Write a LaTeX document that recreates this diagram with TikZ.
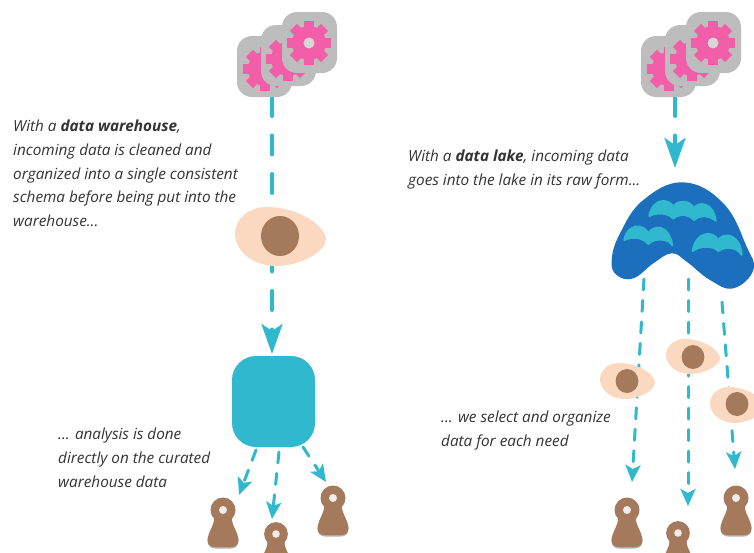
\documentclass[tikz,border=0pt]{standalone}
\usepackage{fontspec}
\setmainfont{Open Sans}
\usetikzlibrary{arrows.meta}
\definecolor{cy}{HTML}{2FB8CE}
\definecolor{lakeblue}{HTML}{1C6FBC}
\definecolor{peach}{HTML}{FBD9C1}
\definecolor{brownish}{HTML}{A5795B}
\definecolor{pink}{HTML}{F25FA8}
\definecolor{boxgray}{HTML}{BDBDBD}
\tikzset{
  flow/.style={draw=cy,line width=4pt,line cap=round,dash pattern=on 19pt off 19.5pt},
  thinflow/.style={draw=cy,line width=3pt,line cap=round,dash pattern=on 11pt off 10.5pt},
  bigtip/.style={-{Stealth[length=30pt,width=21pt,inset=7pt]}},
  tip/.style={-{Stealth[length=17pt,width=15pt,inset=4pt]}},
  caption/.style={font=\itshape\fontsize{15.3}{23.6}\selectfont,align=left,anchor=north west,inner sep=0pt,text=black!80},
  storebox/.style={fill=cy,rounded corners=24pt,minimum width=83pt,minimum height=91pt,inner sep=0pt},
  wave/.style={fill=cy,draw=cy,line width=2pt,line join=round},
}
\newcommand{\gearshape}[3]{%
  \begin{scope}[shift={(#1,#2)}]
    \fill[pink] (0,0) circle (17);
    \foreach \a in {0,45,...,315}{\fill[pink,rotate=\a] (-5,-22) rectangle (5,0);}
    \ifnum#3=1 \fill[boxgray!60] (0,0) circle (5.5);\fi
  \end{scope}}
\newcommand{\gearbox}[2]{\fill[boxgray,rounded corners=15pt] (#1,#2) rectangle ++(55,61);}
\newcommand{\gearstack}[1]{%
  \begin{scope}[shift={(#1,0)}]
    \gearbox{237}{36}\gearshape{265}{69}{0}
    \gearbox{261}{25}\gearshape{288}{59}{0}
    \gearbox{282}{12}\gearshape{309}{43}{1}
  \end{scope}}
\newcommand{\eyeshape}[7]{% centre x,y, half-width, half-height, pupil x,y,r
  \begin{scope}[shift={(#1,#2)},xscale=#3,yscale=#4]
  \fill[peach] (1,0.1) .. controls (1,-0.35) and (0.4,-1) .. (-0.3,-1)
     .. controls (-0.7,-1) and (-1,-0.6) .. (-1,-0.1)
     .. controls (-1,0.5) and (-0.6,1) .. (-0.1,1)
     .. controls (0.45,1) and (1,0.5) .. cycle;
  \end{scope}
  \fill[brownish] (#5,#6) ellipse ({#7*0.95} and {#7});}
\newcommand{\pawnshape}[3]{% head centre x,y, scale
  \begin{scope}[shift={(#1,#2)},scale=#3]
    \fill[black!30] (-9,9) .. controls (-8,15) and (-15,23) .. (-15.5,31)
      .. controls (-15.5,36) and (-12,38.5) .. (-8,38.5) -- (8,38.5)
      .. controls (12,38.5) and (15.5,36) .. (15.5,31)
      .. controls (15,23) and (8,15) .. (9,9) -- cycle;
    \fill[brownish] (-9,8) .. controls (-8,14) and (-15,22) .. (-15.5,30)
      .. controls (-15.5,35) and (-12,37) .. (-8,37) -- (8,37)
      .. controls (12,37) and (15.5,35) .. (15.5,30)
      .. controls (15,22) and (8,14) .. (9,8) -- cycle;
    \fill[brownish] (0,0) circle (12.5);
    \fill[white!85!brownish] (0,0) circle (4);
  \end{scope}}
\begin{document}
\begin{tikzpicture}[x=1pt,y=-1pt]
\useasboundingbox[fill=white] (0,0) rectangle (754,552);
% anchors
\coordinate (gearL) at (272,97);
\coordinate (eyeLtop) at (272,208);
\coordinate (eyeLbot) at (272,252.5);
\node[storebox] (store) at (273.5,401.5) {};
\coordinate (storeTip) at (272,354);
\coordinate (sa) at (256,450);\coordinate (sat) at (239,495);
\coordinate (sb) at (279,452);\coordinate (sbt) at (272,519);
\coordinate (sc) at (303,447);\coordinate (sct) at (326,482);
\coordinate (gearR) at (675,97);
\coordinate (lakeTip) at (675,168);
\coordinate (la) at (644,279);\coordinate (lat) at (632,482);
\coordinate (lb) at (688,279);\coordinate (lbt) at (688,506);
\coordinate (lc) at (722,302);\coordinate (lct) at (735,469);
% connectors
\draw[flow] (gearL) -- (eyeLtop);
\draw[flow,bigtip] (eyeLbot) -- (storeTip);
\draw[thinflow,tip] (sa) -- (sat);
\draw[thinflow,tip] (sb) -- (sbt);
\draw[thinflow,tip] (sc) -- (sct);
\draw[flow,bigtip] (gearR) -- (lakeTip);
\draw[thinflow,tip] (la) -- (lat);
\draw[thinflow,tip] (lb) -- (lbt);
\draw[thinflow,tip] (lc) -- (lct);
% shapes
\gearstack{0}
\gearstack{404}
\eyeshape{280.5}{236.5}{45.5}{29.5}{280}{236}{20}
\eyeshape{627.5}{381}{27.5}{18}{627}{381}{12}
\eyeshape{693}{356.5}{27}{17.5}{693}{357}{12}
\eyeshape{737}{405}{27}{18}{737}{404}{12}
\pawnshape{223}{510}{1}
\pawnshape{276}{534}{0.95}
\pawnshape{333}{498}{1}
\pawnshape{627}{510}{1}
\pawnshape{678}{533}{0.95}
\pawnshape{736}{498}{1}
% lake
\begin{scope}[shift={(590,170)},scale=1/3]
\fill[lakeblue] plot[smooth cycle,tension=0.7] coordinates {(280,37) (400,100) (470,230) (490,300) (430,355) (360,330) (290,275) (245,250) (190,280) (130,325) (80,315) (65,270) (90,190) (160,90)};
\path[wave] (178,138) .. controls (188,84) and (235,84) .. (250,110) .. controls (262,90) and (298,90) .. (312,114) .. controls (325,94) and (370,96) .. (377,152)
  .. controls (362,138) and (330,132) .. (312,150) .. controls (298,132) and (265,130) .. (250,146) .. controls (235,128) and (200,126) .. (178,138) -- cycle;
\path[wave] (103,210) .. controls (112,160) and (160,160) .. (175,190) .. controls (190,165) and (235,160) .. (247,226)
  .. controls (235,205) and (195,202) .. (175,222) .. controls (160,202) and (125,198) .. (103,210) -- cycle;
\path[wave] (308,243) .. controls (318,182) and (370,182) .. (385,210) .. controls (400,186) and (450,190) .. (455,254)
  .. controls (440,230) and (405,228) .. (385,243) .. controls (370,226) and (330,226) .. (308,243) -- cycle;
\end{scope}
% captions
\node[caption] (t1) at (13,120) {With a \textbf{data warehouse},\\incoming data is cleaned and\\organized into a single consistent\\schema before being put into the\\warehouse...};
\node[caption] (t2) at (408,150) {With a \textbf{data lake}, incoming data\\goes into the lake in its raw form...};
\node[caption] (t3) at (58,428) {... analysis is done\\directly on the curated\\warehouse data};
\node[caption] (t4) at (441,411) {... we select and organize\\data for each need};
\end{tikzpicture}
\end{document}
